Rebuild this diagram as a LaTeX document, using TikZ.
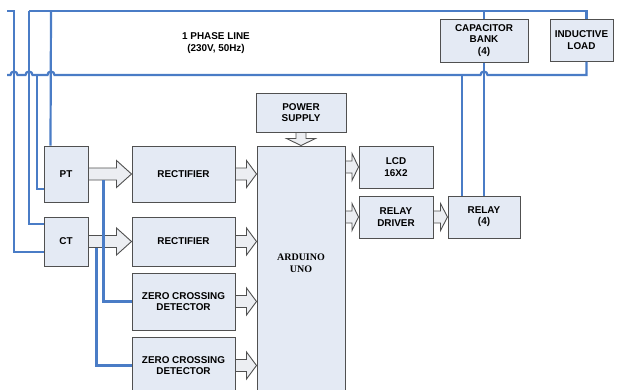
\documentclass[tikz,border=0pt]{standalone}
\usepackage{fontspec}
\setmainfont{Liberation Sans}
\newfontfamily\serifard{Liberation Serif}
\usetikzlibrary{calc}
\definecolor{ligne}{HTML}{4A7CC6}
\definecolor{boitef}{HTML}{E4EAF4}
\definecolor{bord}{HTML}{505050}
\definecolor{flechef}{HTML}{ECEEF2}

% flèche pleine horizontale : départ, arrivée, longueur de tête
\newcommand{\flecheh}[3]{%
  \draw[bloc] let \p1=(#1), \p2=(#2) in
    (\x1,\y1-6pt) -- (\x2-#3,\y1-6pt) -- (\x2-#3,\y1-13.5pt) -- (\x2,\y1)
    -- (\x2-#3,\y1+13.5pt) -- (\x2-#3,\y1+6pt) -- (\x1,\y1+6pt) -- cycle;}
% flèche pleine vers le bas
\newcommand{\flechev}[3]{%
  \draw[bloc] let \p1=(#1), \p2=(#2) in
    (\x1-5pt,\y1) -- (\x1-5pt,\y2+#3) -- (\x1-14.5pt,\y2+#3) -- (\x1,\y2)
    -- (\x1+14.5pt,\y2+#3) -- (\x1+5pt,\y2+#3) -- (\x1+5pt,\y1) -- cycle;}

\begin{document}
\begin{tikzpicture}[
  x=1pt, y=-1pt,
  font=\fontsize{9.9}{11.2}\selectfont\bfseries,
  boite/.style={draw=bord, fill=boitef, line width=1pt, align=center, inner sep=0pt},
  ardtexte/.style={font=\fontsize{10}{12.5}\selectfont\serifard\bfseries, align=center, yshift=13pt},
  fil/.style={draw=ligne, line width=2.2pt},
  bloc/.style={draw=bord, fill=flechef, line width=0.9pt},
]
\clip (0,0) rectangle (619,389);
% la ligne monophasée
\node[align=center] (phase) at (216,43) {1 PHASE LINE\\(230V, 50Hz)};
\node[boite, minimum width=88pt, minimum height=43pt] (cap) at (484,40.5) {CAPACITOR\\BANK\\(4)};
\node[boite, minimum width=63pt, minimum height=42pt] (ind) at (581.5,40) {INDUCTIVE\\LOAD};
% capteurs et mise en forme
\node[boite, minimum width=44pt, minimum height=56pt] (pt) at (66,174) {PT};
\node[boite, minimum width=44pt, minimum height=49pt] (ct) at (66,241.5) {CT};
\node[boite, minimum width=103pt, minimum height=56pt] (redr1) at (183.5,174) {RECTIFIER};
\node[boite, minimum width=103pt, minimum height=49pt] (redr2) at (183.5,241.5) {RECTIFIER};
\node[boite, minimum width=103pt, minimum height=57pt] (zcd1) at (183.5,301.5) {ZERO CROSSING\\DETECTOR};
\node[boite, minimum width=103pt, minimum height=57pt] (zcd2) at (183.5,365.5) {ZERO CROSSING\\DETECTOR};
% le microcontrôleur
\node[boite, minimum width=90pt, minimum height=39pt] (alim) at (301,112.5) {POWER\\SUPPLY};
\node[boite, minimum width=88pt, minimum height=260pt,
      label={[ardtexte]center:{ARDUINO\\UNO}}] (ard) at (301,276) {};
% sorties
\node[boite, minimum width=74pt, minimum height=42pt] (lcd) at (396,167) {LCD\\16X2};
\node[boite, minimum width=74pt, minimum height=42pt] (pilote) at (396,217) {RELAY\\DRIVER};
\node[boite, minimum width=72pt, minimum height=42pt] (relais) at (484,217) {RELAY\\(4)};
% flèches pleines
\flecheh{pt.east}{redr1.west}{15pt}
\flecheh{ct.east}{redr2.west}{15pt}
\flecheh{redr1.east}{redr1.east -| ard.west}{10pt}
\flecheh{redr2.east}{redr2.east -| ard.west}{10pt}
\flecheh{zcd1.east}{zcd1.east -| ard.west}{10pt}
\flecheh{zcd2.east}{zcd2.east -| ard.west}{10pt}
\flecheh{ard.east |- lcd.west}{lcd.west}{6.5pt}
\flecheh{ard.east |- pilote.west}{pilote.west}{6.5pt}
\flecheh{pilote.east}{relais.west}{7pt}
\flechev{alim.south}{ard.north}{7pt}
% conducteurs
\draw[fil] (29,11) -| ([xshift=5pt]ind.north);
\draw[fil] ([xshift=5pt]ind.south) |- (487.5,75) arc (0:180:3.5pt) -- (54.5,75)
  arc (0:180:3.5pt) -- (32.5,75) arc (0:180:3.5pt) -- (17.5,75) arc (0:180:3.5pt) -- (7,75);
\draw[fil] ([yshift=-10.5pt]ct.west) -| (14,11) -- (7,11);
\draw[fil] ([yshift=17.5pt]ct.west) -| (29,11);
\draw[fil] ([yshift=-15pt]pt.west) -| (36.7,75);
\draw[fil] ([xshift=7pt]pt.north west) -- (51,11);
\draw[fil] (cap.north) -- (cap.north |- 0,11);
\draw[fil] (cap.south) -- (relais.north);
\draw[fil] ([xshift=-22pt]relais.north) -- ([xshift=-22pt]relais.north |- 0,75);
\draw[fil] ([xshift=15pt,yshift=-6pt]pt.east) |- (zcd1.west);
\draw[fil] ([xshift=8pt,yshift=-6pt]ct.east) |- (zcd2.west);
\end{tikzpicture}
\end{document}
